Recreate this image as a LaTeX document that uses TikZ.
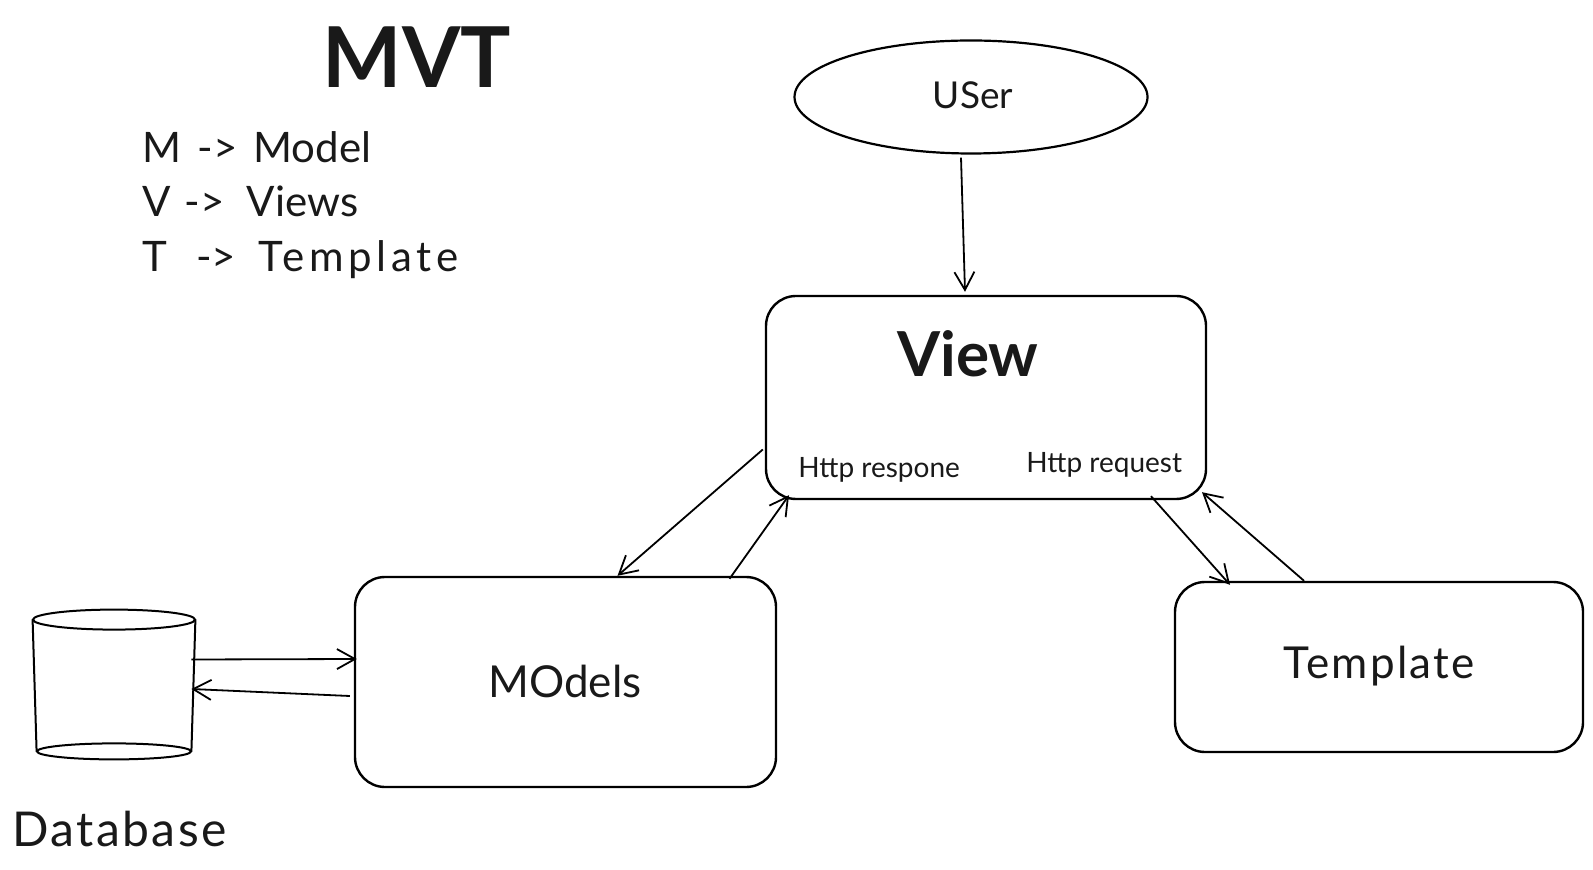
\documentclass[tikz,border=0pt]{standalone}
\usepackage{fontspec}
\setmainfont{Lato}
\usetikzlibrary{shapes.geometric,arrows.meta}
\begin{document}
\begin{tikzpicture}[x=0.5pt,y=-0.5pt,
  boxstyle/.style={draw, line width=1.2pt, rounded corners=15pt, inner sep=0pt},
  conn/.style={line width=0.9pt, -{Straight Barb[length=9pt,width=10pt,line width=0.9pt]}},
  txt/.style={inner sep=0pt, text=black!90}
]
\useasboundingbox (0,0) rectangle (1593,870);
\fill[white] (0,0) rectangle (1593,870);

% title and legend
\node[txt, anchor=base, font=\fontsize{42}{46}\selectfont\bfseries] (title) at (417,88) {MVT};
\node[txt, anchor=base west, font=\fontsize{21}{24}\selectfont] (lm) at (142,163) {M\hspace{8pt}->\hspace{8pt}Model};
\node[txt, anchor=base west, font=\fontsize{21}{24}\selectfont] (lv) at (142,217) {V\hspace{7pt}->\hspace{11pt}Views};
\node[txt, anchor=base west, font=\fontsize{21}{24}\selectfont] (lt) at (142,272) {T\hspace{14.5pt}->\hspace{11pt}{\addfontfeature{LetterSpace=11}Template}};

% user
\node[draw, ellipse, line width=1.1pt, minimum width=176.5pt, minimum height=56.5pt, inner sep=0pt] (user) at (971,97) {};
\node[txt, anchor=base, font=\fontsize{18.5}{21}\selectfont] (usert) at (973,109) {USer};

% view
\node[boxstyle, minimum width=220pt, minimum height=101.5pt] (view) at (986,397.5) {};
\node[txt, anchor=base, font=\fontsize{31}{34}\selectfont\bfseries] (viewt) at (968,377) {View};
\node[txt, anchor=base west, font=\fontsize{14}{16}\selectfont] (resp) at (798,478) {Http respone};
\node[txt, anchor=base west, font=\fontsize{14}{16}\selectfont] (req) at (1026,473) {Http request};

% models
\node[boxstyle, minimum width=210.5pt, minimum height=105pt] (models) at (565.5,682) {};
\node[txt, anchor=base, font=\fontsize{22}{25}\selectfont] (modelst) at (565,697) {MOdels};

% template
\node[boxstyle, minimum width=204pt, minimum height=85pt] (template) at (1379,667) {};
\node[txt, anchor=base, font=\fontsize{22}{25}\selectfont\addfontfeature{LetterSpace=5}] (templatet) at (1379,678) {Template};

% database
\node[minimum width=81pt, minimum height=65.5pt, inner sep=0pt] (db) at (114,685.5) {};
\draw[line width=1pt] (db.north west) -- ([xshift=2pt]db.south west);
\draw[line width=1pt] (db.north east) -- ([xshift=-2pt]db.south east);
\draw[line width=1pt, fill=white] (db.north) ellipse [x radius=40.5pt, y radius=5pt];
\draw[line width=1pt] (db.south) ellipse [x radius=38.5pt, y radius=4pt];
\node[txt, anchor=base west, font=\fontsize{24}{27}\selectfont\addfontfeature{LetterSpace=5}] (dbt) at (12,846) {Database};

% connectors
\draw[conn] ([xshift=-5pt,yshift=-1.5pt]user.south) -- ([xshift=-10.5pt,yshift=1.5pt]view.north);
\draw[conn] ([xshift=-1pt,yshift=-26pt]view.west) -- ([xshift=26pt]models.north);
\draw[conn] ([xshift=82pt,yshift=-1.5pt]models.north) -- ([xshift=-98.5pt,yshift=2.5pt]view.south);
\draw[conn] ([xshift=82.5pt,yshift=2pt]view.south) -- ([xshift=-74.5pt,yshift=-2pt]template.north);
\draw[conn] ([xshift=-37.5pt]template.north) -- ([xshift=108pt,yshift=4pt]view.south);
\draw[conn] ([xshift=-2pt,yshift=13pt]db.east) -- ([xshift=1.5pt,yshift=11.5pt]models.west);
\draw[conn] ([xshift=-2pt,yshift=-7pt]models.west) -- ([xshift=-2pt,yshift=-1.75pt]db.east);
\end{tikzpicture}
\end{document}
